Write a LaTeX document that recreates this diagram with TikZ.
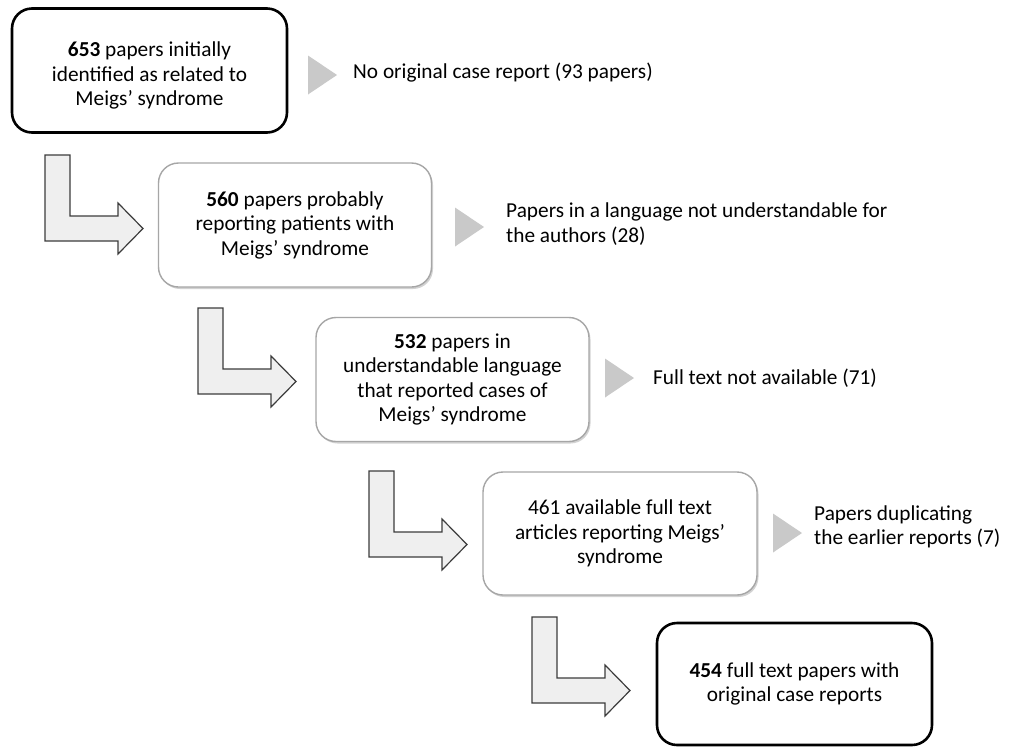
\documentclass[tikz,border=0pt]{standalone}
\usepackage{fontspec}
\setmainfont{Carlito}
\usetikzlibrary{shadows}
\definecolor{boxgray}{HTML}{A6A6A6}
\definecolor{trigray}{HTML}{C9C9C9}
\definecolor{arrfill}{HTML}{EFEFEF}
\definecolor{arrdraw}{HTML}{3C3C3C}
\tikzset{
  txt/.style={font=\fontsize{21.3}{24.5}\selectfont, text=black},
  endbox/.style={txt, draw=black, line width=2.6pt, rounded corners=20pt, fill=white,
    minimum width=275pt, minimum height=124pt, inner sep=0pt, align=center},
  midbox/.style={txt, draw=boxgray, line width=1.4pt, rounded corners=20pt, fill=white,
    minimum width=273pt, minimum height=124pt, inner sep=0pt, align=center,
    drop shadow={shadow xshift=1.5pt, shadow yshift=-2pt, opacity=0.35, fill=black!50}},
  sidetxt/.style={txt, anchor=west, align=left, inner sep=0pt},
  bentarrow/.pic={
    \draw[fill=arrfill, draw=arrdraw, line width=1.2pt, line join=miter]
      (0,0) -- (25,0) -- (25,61) -- (73,61) -- (73,48) -- (98,73.5) -- (73,99) -- (73,86) -- (0,86) -- cycle;
  },
  sidetri/.pic={
    \fill[trigray] (0,-19.5) -- (29,0) -- (0,19.5) -- cycle;
  }
}
\begin{document}
\begin{tikzpicture}[x=1pt, y=-1pt]
\useasboundingbox (0,0) rectangle (1018,748);
\fill[white] (0,0) rectangle (1018,748);

% main boxes
\node[endbox] (b1) at (149.5,70.5) {};
\node[txt, align=center, inner sep=0pt] (b1t) at ([yshift=-5pt]b1.center) {\textbf{653} papers initially\\identified as related to\\Meigs’ syndrome};
\node[midbox] (b2) at (295,225) {\textbf{560} papers probably\\reporting patients with\\Meigs’ syndrome};
\node[midbox] (b3) at (452.5,379.5) {\textbf{532} papers in\\understandable language\\that reported cases of\\Meigs’ syndrome};
\node[midbox, minimum width=274pt, minimum height=123pt] (b4) at (620,533.5) {461 available full text\\articles reporting Meigs’\\syndrome};
\node[endbox, minimum height=122pt] (b5) at (794.5,684) {\textbf{454} full text papers with\\original case reports};

% bent arrows between boxes
\coordinate (a1) at (45,155);
\coordinate (a2) at (198,308);
\coordinate (a3) at (369,471);
\coordinate (a4) at (532,617);
\pic at (a1) {bentarrow};
\pic at (a2) {bentarrow};
\pic at (a3) {bentarrow};
\pic at (a4) {bentarrow};

% side triangles
\coordinate (t1) at (308,75);
\coordinate (t2) at (455,227);
\coordinate (t3) at (605,378);
\coordinate (t4) at (773,533);
\pic at (t1) {sidetri};
\pic at (t2) {sidetri};
\pic at (t3) {sidetri};
\pic at (t4) {sidetri};

% side texts
\node[sidetxt] (s1) at (353,73) {No original case report (93 papers)};
\node[sidetxt] (s2) at (506,224) {Papers in a language not understandable for\\the authors (28)};
\node[sidetxt] (s3) at (653,378) {Full text not available (71)};
\node[sidetxt] (s4) at (814,527) {Papers duplicating\\the earlier reports (7)};
\end{tikzpicture}
\end{document}
